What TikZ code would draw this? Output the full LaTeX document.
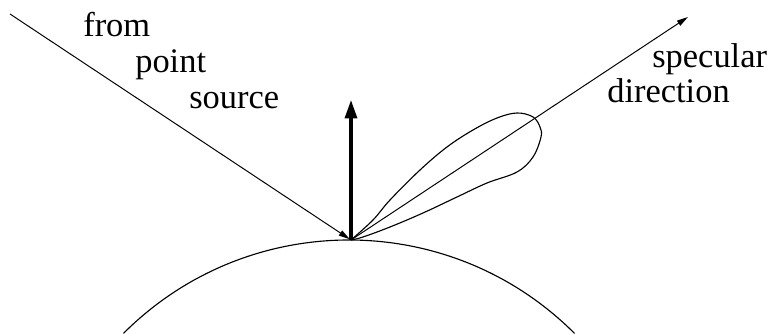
\documentclass[tikz,border=0pt]{standalone}
\usepackage{fontspec}
\setmainfont{Liberation Serif}
\usepackage{tikz}
\usetikzlibrary{arrows.meta, positioning, calc}

\begin{document}
\begin{tikzpicture}[
    x=0.025cm, y=0.025cm,
    lbl/.style={anchor=base west, inner sep=0pt, font=\fontsize{24.5}{29}\selectfont},
    ray/.style={-{Triangle[length=8pt, width=4.2pt]}, line width=0.7pt},
    normal/.style={-{Triangle[length=13pt, width=8.5pt]}, line width=2.2pt},
    surf/.style={line width=0.8pt}
]
\useasboundingbox (0,0) rectangle (772,334);

\coordinate (hit) at (351,94);
\coordinate (src) at (10,320);
\coordinate (up) at (351,234);
\coordinate (spec) at (688,317);
\coordinate (ctr) at (349,-225);

\node[lbl] (from) at (83,297) {from};
\node[lbl] (point) at (135,261) {point};
\node[lbl] (source) at (189,225) {source};
\node[lbl] (specular) at (652,266) {specular};
\node[lbl] (direction) at (607,231) {direction};

\draw[surf] (ctr) ++(135:319) arc[start angle=135, end angle=45, radius=319];

\draw[ray, shorten >=1pt] (src) -- (hit);
\draw[ray] (hit) -- (spec);
\draw[normal] (hit) -- (up);

\draw[surf] plot[smooth, tension=0.6] coordinates {(hit) (373,114) (390,134) (420,164) (447,187) (473,204) (497,216) (517,221) (533,217) (540,207) (541,197) (533,177) (517,162) (487,151) (457,137) (423,121) (390,107) (363,97) (hit)};

\end{tikzpicture}
\end{document}
